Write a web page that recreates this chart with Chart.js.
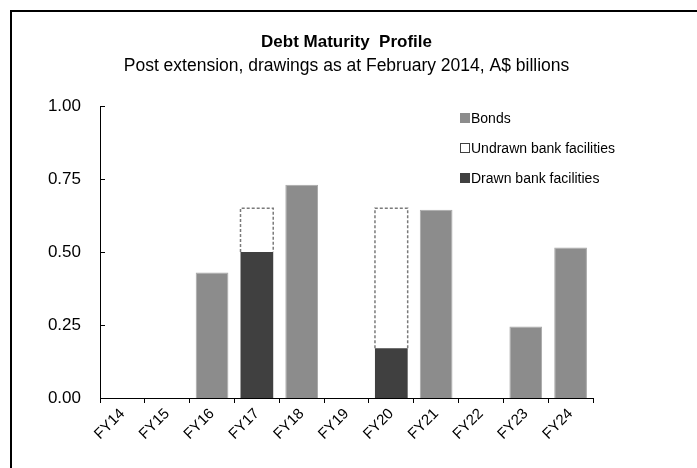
<!DOCTYPE html>
<html>
<head>
<meta charset="utf-8">
<script src="https://cdn.jsdelivr.net/npm/chart.js@4.4.1/dist/chart.umd.min.js"></script>
<style>
  html, body { margin: 0; padding: 0; background: #fff; }
  #wrap { width: 697px; height: 468px; position: relative; }
</style>
</head>
<body>
<div id="wrap"><canvas id="c" width="697" height="468"></canvas></div>
<script>
const categories = ['FY14','FY15','FY16','FY17','FY18','FY19','FY20','FY21','FY22','FY23','FY24'];
const bonds      = [null, null, 0.43, null, 0.73, null, null, 0.645, null, 0.245, 0.515];
const drawn      = [null, null, null, 0.50, null, null, 0.17, null, null, null, null];
const undrawn    = [null, null, null, 0.15, null, null, 0.48, null, null, null, null];
const yTicks     = [0, 0.25, 0.5, 0.75, 1.0];
const titleText    = 'Debt Maturity  Profile';
const subtitleText = 'Post extension, drawings as at February 2014, A$ billions';
const legendItems = [
  { label: 'Bonds', fill: '#8c8c8c', stroke: '#8c8c8c' },
  { label: 'Undrawn bank facilities', fill: '#ffffff', stroke: '#404040' },
  { label: 'Drawn bank facilities', fill: '#404040', stroke: '#404040' }
];

const FONT = '"Liberation Sans", Arial, sans-serif';

const framePlugin = {
  id: 'frame',
  beforeDraw(chart) {
    const ctx = chart.ctx;
    ctx.save();
    ctx.fillStyle = '#fff';
    ctx.fillRect(0, 0, chart.width, chart.height);
    ctx.strokeStyle = '#000';
    ctx.lineWidth = 2;
    ctx.beginPath();
    ctx.moveTo(11, chart.height + 2);
    ctx.lineTo(11, 11);
    ctx.lineTo(chart.width + 2, 11);
    ctx.stroke();
    ctx.restore();
  }
};

const extrasPlugin = {
  id: 'extras',
  afterDatasetsDraw(chart) {
    const ctx = chart.ctx;
    const meta = chart.getDatasetMeta(1);
    ctx.save();
    ctx.strokeStyle = '#7a7a7a';
    ctx.lineWidth = 1.5;
    ctx.setLineDash([3, 2]);
    meta.data.forEach((bar, i) => {
      if (undrawn[i] == null) return;
      const p = bar.getProps(['x', 'y', 'base', 'width'], true);
      const l = p.x - p.width / 2, r = p.x + p.width / 2;
      ctx.beginPath();
      ctx.moveTo(l, p.base);
      ctx.lineTo(l, p.y);
      ctx.lineTo(r, p.y);
      ctx.lineTo(r, p.base);
      ctx.stroke();
    });
    ctx.restore();
  },
  afterDraw(chart) {
    const ctx = chart.ctx;
    const ys = chart.scales.y;
    const area = chart.chartArea;
    ctx.save();
    // titles
    ctx.fillStyle = '#000';
    ctx.textAlign = 'center';
    ctx.textBaseline = 'middle';
    const cx = (area.left + area.right) / 2;
    ctx.font = 'bold 17px ' + FONT;
    ctx.fillText(titleText, cx, 42);
    ctx.font = '17.5px ' + FONT;
    ctx.fillText(subtitleText, cx, 66);
    // inner y ticks
    ctx.strokeStyle = '#000';
    ctx.lineWidth = 1;
    yTicks.forEach(v => {
      if (v === 0) return;
      const y = Math.round(ys.getPixelForValue(v)) + 0.5;
      ctx.beginPath();
      ctx.moveTo(area.left, y);
      ctx.lineTo(area.left + 5, y);
      ctx.stroke();
    });
    // legend
    ctx.textAlign = 'left';
    ctx.font = '14px ' + FONT;
    const lx = area.left + 360, ly = area.top + 12, step = 30;
    legendItems.forEach((it, i) => {
      const cy = ly + i * step;
      ctx.fillStyle = it.fill;
      ctx.fillRect(lx, cy - 5, 10, 10);
      if (it.fill === '#ffffff') {
        ctx.strokeStyle = it.stroke;
        ctx.lineWidth = 1;
        ctx.strokeRect(lx + 0.5, cy - 4.5, 9, 9);
      }
      ctx.fillStyle = '#000';
      ctx.fillText(it.label, lx + 11, cy + 1);
    });
    ctx.restore();
  }
};

new Chart(document.getElementById('c'), {
  type: 'bar',
  data: {
    labels: categories,
    datasets: [
      { label: 'Drawn bank facilities', data: drawn, backgroundColor: '#404040', borderWidth: 0 },
      { label: 'Undrawn bank facilities', data: undrawn, backgroundColor: '#ffffff', borderWidth: 0 },
      { label: 'Bonds', data: bonds, backgroundColor: '#8c8c8c', borderColor: '#a8a8a8', borderWidth: 1 }
    ]
  },
  options: {
    responsive: false,
    animation: false,
    devicePixelRatio: 1,
    layout: { padding: { left: 0, right: 104, top: 106, bottom: 0 } },
    datasets: { bar: { categoryPercentage: 1.0, barPercentage: 0.73 } },
    plugins: {
      legend: { display: false },
      tooltip: { enabled: false },
      title: { display: false },
      subtitle: { display: false }
    },
    scales: {
      x: {
        stacked: true,
        grid: { display: true, drawOnChartArea: false, drawTicks: true, tickLength: 5, color: '#000', offset: true },
        border: { display: true, color: '#000', width: 1 },
        ticks: { color: '#000', font: { family: FONT, size: 15 }, maxRotation: 45, minRotation: 45, padding: 2 },
        afterFit(s) { s.height = 70; }
      },
      y: {
        stacked: true,
        min: 0, max: 1,
        afterBuildTicks(s) { s.ticks = yTicks.map(v => ({ value: v })); },
        grid: { display: false, drawTicks: false },
        border: { display: true, color: '#000', width: 1 },
        ticks: {
          color: '#000', font: { family: FONT, size: 17 }, padding: 19,
          callback: v => Number(v).toFixed(2)
        },
        afterFit(s) { s.width = 100; }
      }
    }
  },
  plugins: [framePlugin, extrasPlugin]
});
</script>
</body>
</html>
